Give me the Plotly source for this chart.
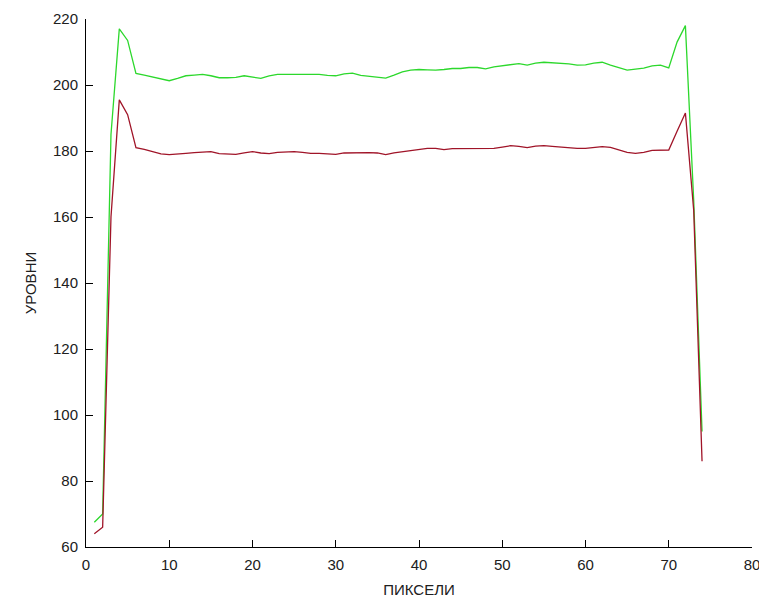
import plotly.graph_objects as go

pixels = list(range(1, 75))

green_levels = [
    67.5, 70, 185, 217, 213.5, 203.5, 203, 202.5, 201.8, 201.3,
    202, 202.8, 203, 203.2, 202.8, 202.2, 202.2, 202.3, 202.8, 202.3,
    202, 202.8, 203.2, 203.2, 203.2, 203.2, 203.2, 203.2, 202.9, 202.8,
    203.4, 203.6, 202.9, 202.6, 202.3, 202.1, 203, 204, 204.5, 204.7,
    204.6, 204.5, 204.7, 205, 205, 205.3, 205.3, 204.9, 205.5, 205.8,
    206.3, 206.5, 206, 206.6, 206.9, 206.8, 206.6, 206.4, 206, 206.1,
    206.6, 206.9, 206, 205.3, 204.5, 204.8, 205.1, 205.8, 206, 205.2,
    213, 218, 165, 95,
]

red_levels = [
    64, 66, 160, 195.5, 191, 181, 180.5, 179.8, 179.1, 178.9,
    179, 179.3, 179.5, 179.6, 179.8, 179.2, 179, 179, 179.4, 179.8,
    179.4, 179.2, 179.6, 179.7, 179.8, 179.6, 179.3, 179.3, 179.1, 179,
    179.4, 179.5, 179.5, 179.5, 179.4, 178.9, 179.4, 179.8, 180.2, 180.6,
    180.8, 180.8, 180.4, 180.7, 180.7, 180.7, 180.7, 180.7, 180.8, 181.2,
    181.6, 181.4, 181, 181.5, 181.6, 181.4, 181.2, 180.9, 180.8, 180.8,
    181.1, 181.3, 181.1, 180.4, 179.6, 179.3, 179.6, 180.2, 180.3, 180.3,
    186, 191.5, 162, 86,
]

x_ticks = [0, 10, 20, 30, 40, 50, 60, 70, 80]
y_ticks = [60, 80, 100, 120, 140, 160, 180, 200, 220]

FONT = "Liberation Sans, Arial"

fig = go.Figure()
fig.add_trace(go.Scatter(x=pixels, y=green_levels, mode="lines",
                         line=dict(color="#2cd82c", width=1.3), showlegend=False))
fig.add_trace(go.Scatter(x=pixels, y=red_levels, mode="lines",
                         line=dict(color="#a01428", width=1.3), showlegend=False))

axis_common = dict(showgrid=False, zeroline=False, showline=True, linecolor="black",
                   linewidth=1, ticks="inside", ticklen=7, tickcolor="black",
                   mirror=False, ticklabelstandoff=4, automargin=False,
                   tickfont=dict(family=FONT, size=15, color="#202020"))

fig.update_layout(
    width=759, height=594, autosize=False,
    margin=dict(l=78, r=15, t=11, b=55),
    paper_bgcolor="white", plot_bgcolor="white",
    xaxis=dict(range=[0, 80], tickvals=x_ticks, ticktext=[str(v) for v in x_ticks],
               title=dict(text="ПИКСЕЛИ", standoff=12,
                          font=dict(family=FONT, size=15, color="#202020")),
               **axis_common),
    yaxis=dict(range=[60, 220], tickvals=y_ticks, ticktext=[str(v) for v in y_ticks],
               title=dict(text="УРОВНИ", standoff=12,
                          font=dict(family=FONT, size=15, color="#202020")),
               **axis_common),
)

fig.write_html("out.html")
